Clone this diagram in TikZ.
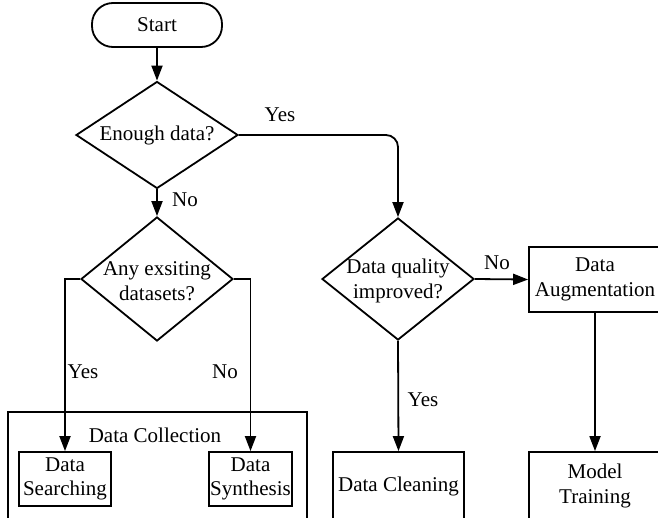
\documentclass[tikz,border=0pt]{standalone}
\usepackage{fontspec}
\setmainfont{Liberation Serif}
\newfontfamily\diagfont{Liberation Serif}
\usetikzlibrary{shapes.geometric,arrows.meta}
\tikzset{
  base/.style={draw, line width=1.8pt, inner sep=0pt, align=center},
  startbox/.style={base, rectangle, rounded corners=21pt, minimum width=130pt, minimum height=44pt},
  decision/.style={base, diamond, minimum width=#1},
  procbox/.style={base, rectangle},
  lbl/.style={inner sep=0pt, align=center},
  arr/.style={line width=1.8pt, -{Triangle[length=15pt,width=11pt]}},
}
\begin{document}
\begin{tikzpicture}[x=1pt,y=-1pt,font=\diagfont\fontsize{21}{24.5}\selectfont]
\useasboundingbox (0,0) rectangle (658,517);
\clip (0,0) rectangle (658,517);
\node[startbox] (start) at (157,25) {Start};
\node[decision=162pt, minimum height=107pt] (d1) at (157,135) {};
\node[lbl] (d1t) at (157,135) {Enough data?};
\node[decision=152pt, minimum height=124pt] (d2) at (157,279) {};
\node[lbl] (d2t) at (157,281) {Any exsiting\\datasets?};
\node[decision=152pt, minimum height=122pt] (d3) at (398,279) {};
\node[lbl] (d3t) at (398,281) {Data quality\\improved?};
\node[procbox, minimum width=132pt, minimum height=65pt] (aug) at (595,279.5) {Data\\Augmentation};
\node[procbox, minimum width=299pt, minimum height=140pt, anchor=north west] (coll) at (7,411) {};
\node[lbl] (collt) at (155,435) {Data Collection};
\node[procbox, minimum width=92pt, minimum height=54pt] (search) at (65,479) {Data\\Searching};
\node[procbox, minimum width=83pt, minimum height=54pt] (synth) at (250.5,479) {Data\\Synthesis};
\node[procbox, minimum width=131pt, minimum height=68pt] (clean) at (398.5,486) {Data Cleaning};
\node[procbox, minimum width=132pt, minimum height=68pt] (train) at (595,486) {Model\\Training};
% connectors
\draw[arr] (start.south) -- (d1.north);
\draw[arr, rounded corners=12pt] (d1.east) -| (d3.north);
\draw[arr] (d1.south) -- (d2.north);
\draw[arr] (d2.west) -| (search.north);
\draw[arr] (d2.east) -| (synth.north);
\draw[arr] (d3.south) -- (clean.north);
\draw[arr] (d3.east) -- (aug.west);
\draw[arr] (aug.south) -- (train.north);
% labels
\node[lbl] (l1) at (280,115) {Yes};
\node[lbl] (l2) at (185,200) {No};
\node[lbl] (l3) at (83,372) {Yes};
\node[lbl] (l4) at (225,372) {No};
\node[lbl] (l5) at (497,263) {No};
\node[lbl] (l6) at (423,400) {Yes};
\end{tikzpicture}
\end{document}
